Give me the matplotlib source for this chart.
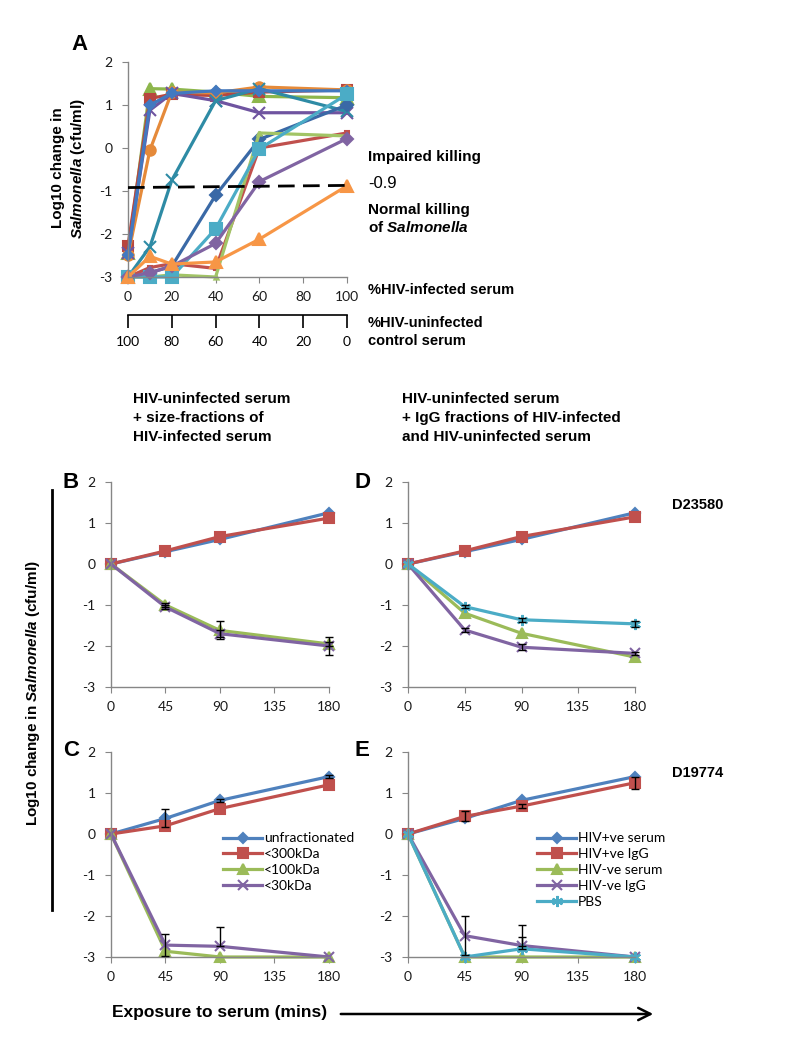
import numpy as np
import matplotlib.pyplot as plt

plt.rcParams["font.family"] = ["Lato", "DejaVu Sans"]
plt.rcParams["axes.unicode_minus"] = False
plt.rcParams["mathtext.fontset"] = "custom"
plt.rcParams["mathtext.rm"] = "Liberation Sans"
plt.rcParams["mathtext.it"] = "Liberation Sans:italic"
plt.rcParams["mathtext.bf"] = "Liberation Sans:bold"
plt.rcParams["mathtext.bfit"] = "Liberation Sans:italic:bold"

# ---- panel A: % HIV-infected serum mixed into control serum ----
pct_infected = [0, 10, 20, 40, 60, 100]
pct_uninfected = [100, 80, 60, 40, 20, 0]
a_green_tri = [-2.45, 1.38, 1.37, 1.30, 1.20, 1.17]
a_red_sq = [-2.27, 1.15, 1.25, 1.22, 1.30, 1.35]
a_orange_circ = [-2.50, -0.05, 1.30, 1.28, 1.42, 1.35]
a_purple_x = [-2.45, 0.88, 1.27, 1.10, 0.82, 0.82]
a_teal_x = [-3.00, -2.30, -0.75, 1.10, 1.38, 0.85]
a_blue_dia = [-2.50, 1.00, 1.27, 1.33, 1.33, 1.33]
a_dkblue_dia = [-3.00, -2.90, -2.75, -1.10, 0.20, 1.00]
a_red2 = [-3.00, -2.78, -2.69, -2.80, 0.00, 0.35]
a_green2 = [-3.00, -3.00, -2.95, -3.00, 0.35, 0.28]
a_cyan_sq = [-3.00, -3.00, -3.00, -1.88, -0.02, 1.25]
a_purple_dia = [-3.00, -2.90, -2.75, -2.22, -0.78, 0.22]
a_orange_tri = [-3.00, -2.52, -2.70, -2.65, -2.12, -0.88]
cutoff_x = [0, 100]
cutoff_y = [-0.92, -0.87]

# ---- panels B-E: time course ----
minutes = [0, 45, 90, 180]
b_unfrac = [0, 0.30, 0.60, 1.25]
b_300 = [0, 0.32, 0.67, 1.12]
b_100 = [0, -1.00, -1.62, -1.95]
b_30 = [0, -1.05, -1.70, -2.00]
b_100_err = [0, 0.04, 0.22, 0.05]
b_30_err = [0, 0.04, 0.08, 0.22]

c_unfrac = [0, 0.38, 0.82, 1.40]
c_300 = [0, 0.20, 0.62, 1.20]
c_100 = [0, -2.86, -3.00, -3.00]
c_30 = [0, -2.71, -2.74, -3.00]
c_unfrac_err = [0, 0.22, 0.04, 0.04]
c_30_err = [0, 0.27, 0.47, 0]

d_pos_serum = [0, 0.30, 0.60, 1.25]
d_pos_igg = [0, 0.32, 0.67, 1.15]
d_neg_serum = [0, -1.20, -1.69, -2.27]
d_neg_igg = [0, -1.61, -2.03, -2.18]
d_pbs = [0, -1.04, -1.36, -1.46]
d_neg_igg_err = [0, 0.05, 0.07, 0.04]
d_pbs_err = [0, 0.04, 0.05, 0.08]

e_pos_serum = [0, 0.38, 0.82, 1.40]
e_pos_igg = [0, 0.43, 0.68, 1.25]
e_neg_serum = [0, -3.00, -3.00, -3.00]
e_neg_igg = [0, -2.48, -2.72, -3.00]
e_pbs = [0, -3.00, -2.80, -3.00]
e_neg_igg_err = [0, 0.48, 0.49, 0]
e_pbs_err = [0, 0, 0.30, 0]
e_pos_igg_err = [0, 0.12, 0.04, 0.15]

size_labels = ["unfractionated", "<300kDa", "<100kDa", "<30kDa"]
igg_labels = ["HIV+ve serum", "HIV+ve IgG", "HIV-ve serum", "HIV-ve IgG", "PBS"]

BLUE, RED, GREEN, PURPLE, CYAN, ORANGE = "#4F81BD", "#C0504D", "#9BBB59", "#8064A2", "#4BACC6", "#F79646"
GRAY = "#868686"
W, H = 787, 1049
fig = plt.figure(figsize=(W / 100, H / 100), dpi=100)


def px_axes(l, t, r, b):
    return fig.add_axes([l / W, 1 - b / H, (r - l) / W, (b - t) / H])


def style(ax, xmax, xticks):
    for s in ["top", "right"]:
        ax.spines[s].set_visible(False)
    for s in ["left", "bottom"]:
        ax.spines[s].set_color(GRAY)
        ax.spines[s].set_linewidth(1.0)
    ax.set_xlim(0, xmax)
    ax.set_ylim(-3, 2)
    ax.set_yticks(range(-3, 3))
    ax.set_xticks(xticks)
    ax.tick_params(color=GRAY, length=4, labelsize=10, labelcolor="#1a1a1a")
    ax.tick_params(axis="x", pad=6)
    ax.tick_params(axis="y", pad=7)
    ax.patch.set_alpha(0)


def line(ax, x, y, color, marker, ms, label=None, mew=1.5):
    ax.plot(x, y, color=color, lw=2.3, marker=marker, ms=ms, mew=mew,
            mec=color, mfc=color, clip_on=False, label=label)


def err(ax, x, y, e):
    # error bars; the lower half stops at the -3 floor of the axis
    x, y, e = np.array(x), np.array(y), np.array(e)
    m = e > 0
    lower = np.where(y - e < -3, 0, e)
    ax.errorbar(x[m], y[m], yerr=[lower[m], e[m]], fmt="none", ecolor="black",
                elinewidth=1.0, capsize=3, capthick=1.0, clip_on=False, zorder=5)


STAR = (6, 2, 0)

# panel A
axA = px_axes(128, 62, 347, 277)
style(axA, 100, range(0, 101, 20))
line(axA, pct_infected, a_green_tri, "#8DB64C", "^", 8)
line(axA, pct_infected, a_red_sq, "#B8463F", "s", 7)
line(axA, pct_infected, a_orange_circ, "#E58A3A", "o", 7.5)
line(axA, pct_infected, a_purple_x, "#6F54A0", "x", 8)
line(axA, pct_infected, a_teal_x, "#2E8BA5", "x", 8)
line(axA, pct_infected, a_blue_dia, "#4279C0", "D", 5.5)
line(axA, pct_infected, a_dkblue_dia, "#3A69A6", "D", 6)
line(axA, pct_infected, a_red2, RED, "s", 3)
line(axA, pct_infected, a_green2, "#A2C466", "^", 3)
line(axA, pct_infected, a_cyan_sq, CYAN, "s", 8)
line(axA, pct_infected, a_purple_dia, PURPLE, "D", 6)
line(axA, pct_infected, a_orange_tri, ORANGE, "^", 9)
axA.plot(cutoff_x, cutoff_y, color="black", lw=2, ls=(0, (6, 3)), zorder=6)

axA2 = px_axes(128, 300, 347, 315)
for s in ["top", "right", "left"]:
    axA2.spines[s].set_visible(False)
axA2.spines["bottom"].set_linewidth(1.2)
axA2.set_xlim(100, 0)
axA2.set_xticks(pct_uninfected)
axA2.set_yticks([])
axA2.tick_params(axis="x", length=9, width=1.2, labelsize=10, pad=6)
axA2.patch.set_alpha(0)

# panel B
axB = px_axes(111, 482, 329, 687)
style(axB, 180, range(0, 181, 45))
line(axB, minutes, b_unfrac, BLUE, "D", 5.5)
line(axB, minutes, b_300, RED, "s", 7)
line(axB, minutes, b_100, GREEN, "^", 7.5)
line(axB, minutes, b_30, PURPLE, "x", 7)
err(axB, minutes, b_100, b_100_err)
err(axB, minutes, b_30, b_30_err)

# panel C
axC = px_axes(111, 752, 329, 957)
style(axC, 180, range(0, 181, 45))
line(axC, minutes, c_unfrac, BLUE, "D", 5.5, size_labels[0])
line(axC, minutes, c_300, RED, "s", 7, size_labels[1])
line(axC, minutes, c_100, GREEN, "^", 7.5, size_labels[2])
line(axC, minutes, c_30, PURPLE, "x", 7, size_labels[3])
err(axC, minutes, c_unfrac, c_unfrac_err)
err(axC, minutes, c_30, c_30_err)
axC.legend(loc="upper left", bbox_to_anchor=(0.49, 0.635), frameon=False,
           fontsize=10, handlelength=2.8, handletextpad=0.15,
           labelspacing=0.28, borderaxespad=0)

# panel D
axD = px_axes(408, 482, 635, 687)
style(axD, 180, range(0, 181, 45))
line(axD, minutes, d_pos_serum, BLUE, "D", 5.5)
line(axD, minutes, d_pos_igg, RED, "s", 7)
line(axD, minutes, d_neg_serum, GREEN, "^", 7.5)
line(axD, minutes, d_neg_igg, PURPLE, "x", 7)
line(axD, minutes, d_pbs, CYAN, STAR, 8)
err(axD, minutes, d_neg_igg, d_neg_igg_err)
err(axD, minutes, d_pbs, d_pbs_err)

# panel E
axE = px_axes(408, 752, 635, 957)
style(axE, 180, range(0, 181, 45))
line(axE, minutes, e_pos_serum, BLUE, "D", 5.5, igg_labels[0])
line(axE, minutes, e_pos_igg, RED, "s", 7, igg_labels[1])
line(axE, minutes, e_neg_serum, GREEN, "^", 7.5, igg_labels[2])
line(axE, minutes, e_neg_igg, PURPLE, "x", 7, igg_labels[3])
line(axE, minutes, e_pbs, CYAN, STAR, 8, igg_labels[4])
err(axE, minutes, e_neg_igg, e_neg_igg_err)
err(axE, minutes, e_pbs, e_pbs_err)
err(axE, minutes, e_pos_igg, e_pos_igg_err)
axE.legend(loc="upper left", bbox_to_anchor=(0.545, 0.635), frameon=False,
           fontsize=10, handlelength=2.8, handletextpad=0.15,
           labelspacing=0.28, borderaxespad=0)

# overlay in pixel coordinates for annotations
ov = fig.add_axes([0, 0, 1, 1])
ov.set_xlim(0, W)
ov.set_ylim(H, 0)
ov.axis("off")

bold = dict(family="Liberation Sans", fontweight="bold")
ov.text(80, 44, "A", fontsize=16, ha="center", va="center", **bold)
ov.text(71, 482, "B", fontsize=16, ha="center", va="center", **bold)
ov.text(71, 750, "C", fontsize=16, ha="center", va="center", **bold)
ov.text(362, 482, "D", fontsize=16, ha="center", va="center", **bold)
ov.text(362, 750, "E", fontsize=16, ha="center", va="center", **bold)

ov.text(69, 168, "Log10 change in\n$\\mathbfit{Salmonella}$ (cfu/ml)", fontsize=11,
        rotation=90, ha="center", va="center", multialignment="center",
        linespacing=1.25, **bold)
ov.text(368, 157, "Impaired killing", fontsize=11, va="center", **bold)
ov.text(368, 184, "-0.9", fontsize=12, va="center", family="Liberation Sans")
ov.text(368, 219, "Normal killing\nof $\\mathbfit{Salmonella}$", fontsize=11,
        va="center", linespacing=1.25, **bold)
ov.text(368, 290, "%HIV-infected serum", fontsize=10.5, va="center", **bold)
ov.text(368, 332, "%HIV-uninfected\ncontrol serum", fontsize=10.5, va="center",
        linespacing=1.3, **bold)

ov.text(133, 418, "HIV-uninfected serum\n+ size-fractions of\nHIV-infected serum",
        fontsize=11, va="center", linespacing=1.45, **bold)
ov.text(402, 418, "HIV-uninfected serum\n+ IgG fractions of HIV-infected\nand HIV-uninfected serum",
        fontsize=11, va="center", linespacing=1.45, **bold)
ov.text(698, 505, "D23580", fontsize=10.5, ha="center", va="center", **bold)
ov.text(698, 773, "D19774", fontsize=10.5, ha="center", va="center", **bold)

ov.text(33, 693, "Log10 change in $\\mathbfit{Salmonella}$ (cfu/ml)", fontsize=11,
        rotation=90, ha="center", va="center", **bold)
ov.plot([52, 52], [490, 910], color="black", lw=2)

ov.text(220, 1013, "Exposure to serum (mins)", fontsize=12.5, ha="center", va="center", **bold)
ov.annotate("", xy=(656, 1014), xytext=(338, 1014),
            arrowprops=dict(arrowstyle="->", lw=1.8, color="black", mutation_scale=22))

fig.savefig("out.png", dpi=100)
